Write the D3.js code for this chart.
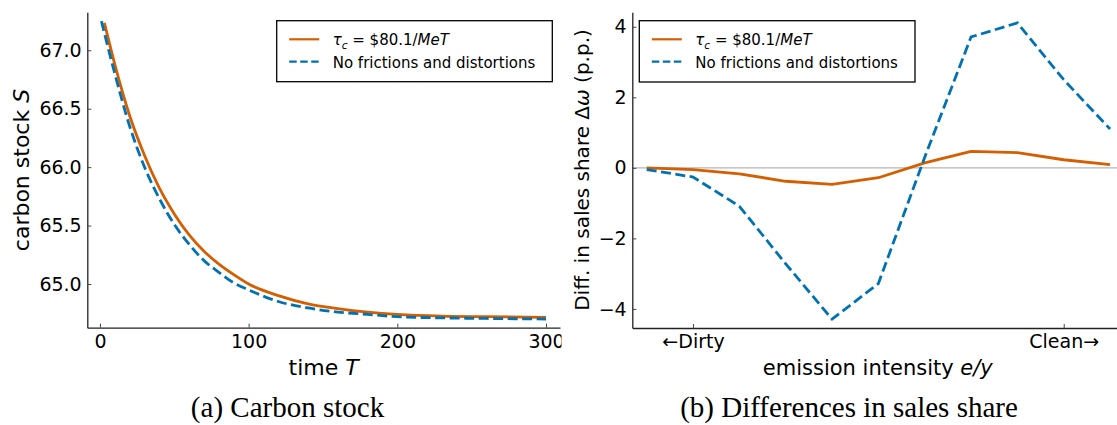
<!DOCTYPE html>
<html>
<head>
<meta charset="utf-8">
<script src="https://cdn.jsdelivr.net/npm/d3@7"></script>
<style>
  html, body { margin: 0; padding: 0; background: #fff; }
  svg { display: block; }
  text { font-family: "DejaVu Sans", sans-serif; fill: #000; }
</style>
</head>
<body>
<svg id="chart" width="1117" height="425"></svg>
<script>
// ---------- Data ----------
const seriesNames = ["τc = $80.1/MeT", "No frictions and distortions"];

// Panel (a): carbon stock over time
const timeTax = [3, 10, 20, 30, 40, 50, 60, 70, 80, 90, 100, 120, 140, 160, 180, 200, 230, 260, 300];
const stockTax = [67.235, 66.88, 66.44, 66.10, 65.82, 65.60, 65.42, 65.28, 65.17, 65.08, 65.00, 64.90, 64.83, 64.79, 64.76, 64.74, 64.725, 64.72, 64.715];
const timeFirstBest = [1, 10, 20, 30, 40, 50, 60, 70, 80, 90, 100, 120, 140, 160, 180, 200, 230, 260, 300];
const stockFirstBest = [67.25, 66.80, 66.35, 66.00, 65.73, 65.51, 65.34, 65.20, 65.10, 65.01, 64.95, 64.85, 64.795, 64.76, 64.74, 64.72, 64.71, 64.705, 64.70];
const leftXTicks = [0, 100, 200, 300];
const leftYTicks = [65.0, 65.5, 66.0, 66.5, 67.0];

// Panel (b): difference in sales share by emission-intensity bin (dirty -> clean)
const bins = [0, 1, 2, 3, 4, 5, 6, 7, 8, 9, 10];
const diffTax = [0.0, -0.05, -0.17, -0.38, -0.47, -0.28, 0.14, 0.47, 0.43, 0.23, 0.09];
const diffFirstBest = [-0.05, -0.26, -1.09, -2.72, -4.29, -3.28, 0.30, 3.71, 4.11, 2.50, 1.10];
const rightXTickPos = [1, 9];
const rightXTickLabels = ["←Dirty", "Clean→"];
const rightYTicks = [-4, -2, 0, 2, 4];

// ---------- Styling ----------
const ORANGE = "#D55E00";
const BLUE = "#0072B2";
const svg = d3.select("#chart");

svg.append("defs").append("clipPath").attr("id", "clipLeft")
  .append("rect").attr("x", 0).attr("y", 0).attr("width", 561.5).attr("height", 425);

function styleAxis(g) {
  g.select(".domain").attr("stroke", "#222").attr("stroke-width", 1.3);
  g.selectAll(".tick line").attr("stroke", "#444").attr("stroke-width", 1);
  g.selectAll(".tick text").style("font-family", "DejaVu Sans").style("font-size", "19px").attr("fill", "#000");
}

function legend(g, x0, y0, w, h) {
  g.append("rect").attr("x", x0).attr("y", y0).attr("width", w).attr("height", h)
    .attr("fill", "#fff").attr("stroke", "#000").attr("stroke-width", 1.3);
  const rows = [
    { color: ORANGE, dash: null, dy: 18.6 },
    { color: BLUE, dash: "7.5,3.5", dy: 41 }
  ];
  rows.forEach((r, i) => {
    const yy = y0 + r.dy;
    g.append("line").attr("x1", x0 + 12.5).attr("x2", x0 + 42.5).attr("y1", yy).attr("y2", yy)
      .attr("stroke", r.color).attr("stroke-width", 2.2)
      .attr("stroke-dasharray", r.dash);
    const t = g.append("text").attr("x", x0 + 56).attr("y", yy + 6).style("font-size", "15px");
    if (i === 0) {
      t.append("tspan").text("τ").style("font-style", "italic");
      t.append("tspan").text("c").style("font-style", "italic").style("font-size", "10.5px").attr("dy", 4);
      t.append("tspan").text(" = $80.1/").attr("dy", -4);
      t.append("tspan").text("MeT").style("font-style", "italic");
    } else {
      t.text(seriesNames[1]);
    }
  });
}

// ---------- Panel (a) ----------
{
  const x = d3.scaleLinear().domain([-8.5, 309.4]).range([87.3, 560]);
  const y = d3.scaleLinear().domain([64.626, 67.325]).range([327.7, 12.3]);
  const g = svg.append("g").attr("clip-path", "url(#clipLeft)");

  const line = d3.line().x(d => x(d[0])).y(d => y(d[1])).curve(d3.curveMonotoneX);
  g.append("path").datum(d3.zip(timeTax, stockTax)).attr("d", line)
    .attr("fill", "none").attr("stroke", ORANGE).attr("stroke-width", 2.8);
  g.append("path").datum(d3.zip(timeFirstBest, stockFirstBest)).attr("d", line)
    .attr("fill", "none").attr("stroke", BLUE).attr("stroke-width", 2.8)
    .attr("stroke-dasharray", "10,4.5");

  g.append("g").attr("transform", "translate(0,327.7)")
    .call(d3.axisBottom(x).tickValues(leftXTicks).tickFormat(d3.format("d"))
      .tickSizeInner(-4).tickSizeOuter(0).tickPadding(7))
    .call(styleAxis);
  g.append("g").attr("transform", "translate(87.3,0)")
    .call(d3.axisLeft(y).tickValues(leftYTicks).tickFormat(d3.format(".1f"))
      .tickSizeInner(-4).tickSizeOuter(0).tickPadding(5.6))
    .call(styleAxis);

  const yl = g.append("text").attr("transform", "translate(21,170) rotate(-90)")
    .attr("text-anchor", "middle").attr("dominant-baseline", "central").style("font-size", "22px");
  yl.append("tspan").text("carbon stock ");
  yl.append("tspan").text("S").style("font-style", "italic");

  const xl = g.append("text").attr("x", 323.7).attr("y", 374.5).attr("text-anchor", "middle").style("font-size", "22px");
  xl.append("tspan").text("time ");
  xl.append("tspan").text("T").style("font-style", "italic");

  legend(g, 276.7, 20.7, 275.6, 61);

  g.append("text").attr("x", 287.5).attr("y", 417).attr("text-anchor", "middle")
    .style("font-family", "Liberation Serif, serif").style("font-size", "29px")
    .text("(a) Carbon stock");
}

// ---------- Panel (b) ----------
{
  const x = d3.scaleLinear().domain([-0.311, 10.15]).range([632.3, 1117]);
  const y = d3.scaleLinear().domain([-4.54, 4.41]).range([328, 12.3]);
  const g = svg.append("g");

  g.append("line").attr("x1", 632.3).attr("x2", 1117).attr("y1", y(0)).attr("y2", y(0))
    .attr("stroke", "#b5b5b5").attr("stroke-width", 1.2);

  const line = d3.line().x(d => x(d[0])).y(d => y(d[1]));
  g.append("path").datum(d3.zip(bins, diffTax)).attr("d", line)
    .attr("fill", "none").attr("stroke", ORANGE).attr("stroke-width", 2.8).attr("stroke-linejoin", "round");
  g.append("path").datum(d3.zip(bins, diffFirstBest)).attr("d", line)
    .attr("fill", "none").attr("stroke", BLUE).attr("stroke-width", 2.8)
    .attr("stroke-dasharray", "10,4.5");

  g.append("g").attr("transform", "translate(0,328)")
    .call(d3.axisBottom(x).tickValues(rightXTickPos).tickFormat((d, i) => rightXTickLabels[i])
      .tickSizeInner(-4).tickSizeOuter(0).tickPadding(7))
    .call(styleAxis);
  g.append("g").attr("transform", "translate(632.3,0)")
    .call(d3.axisLeft(y).tickValues(rightYTicks).tickFormat(d => d < 0 ? "\u2212" + Math.abs(d) : String(d))
      .tickSizeInner(-4).tickSizeOuter(0).tickPadding(5.6))
    .call(styleAxis);

  const yl = g.append("text").attr("transform", "translate(581.7,170) rotate(-90)")
    .attr("text-anchor", "middle").attr("dominant-baseline", "central").style("font-size", "20px");
  yl.append("tspan").text("Diff. in sales share Δ");
  yl.append("tspan").text("ω").style("font-style", "italic");
  yl.append("tspan").text(" (p.p.)");

  const xl = g.append("text").attr("x", 877.8).attr("y", 374.5).attr("text-anchor", "middle").style("font-size", "21px");
  xl.append("tspan").text("emission intensity ");
  xl.append("tspan").text("e/y").style("font-style", "italic");

  legend(g, 639.3, 20.7, 275.7, 61.3);

  g.append("text").attr("x", 849).attr("y", 417).attr("text-anchor", "middle")
    .style("font-family", "Liberation Serif, serif").style("font-size", "29px")
    .text("(b) Differences in sales share");
}
</script>
</body>
</html>
